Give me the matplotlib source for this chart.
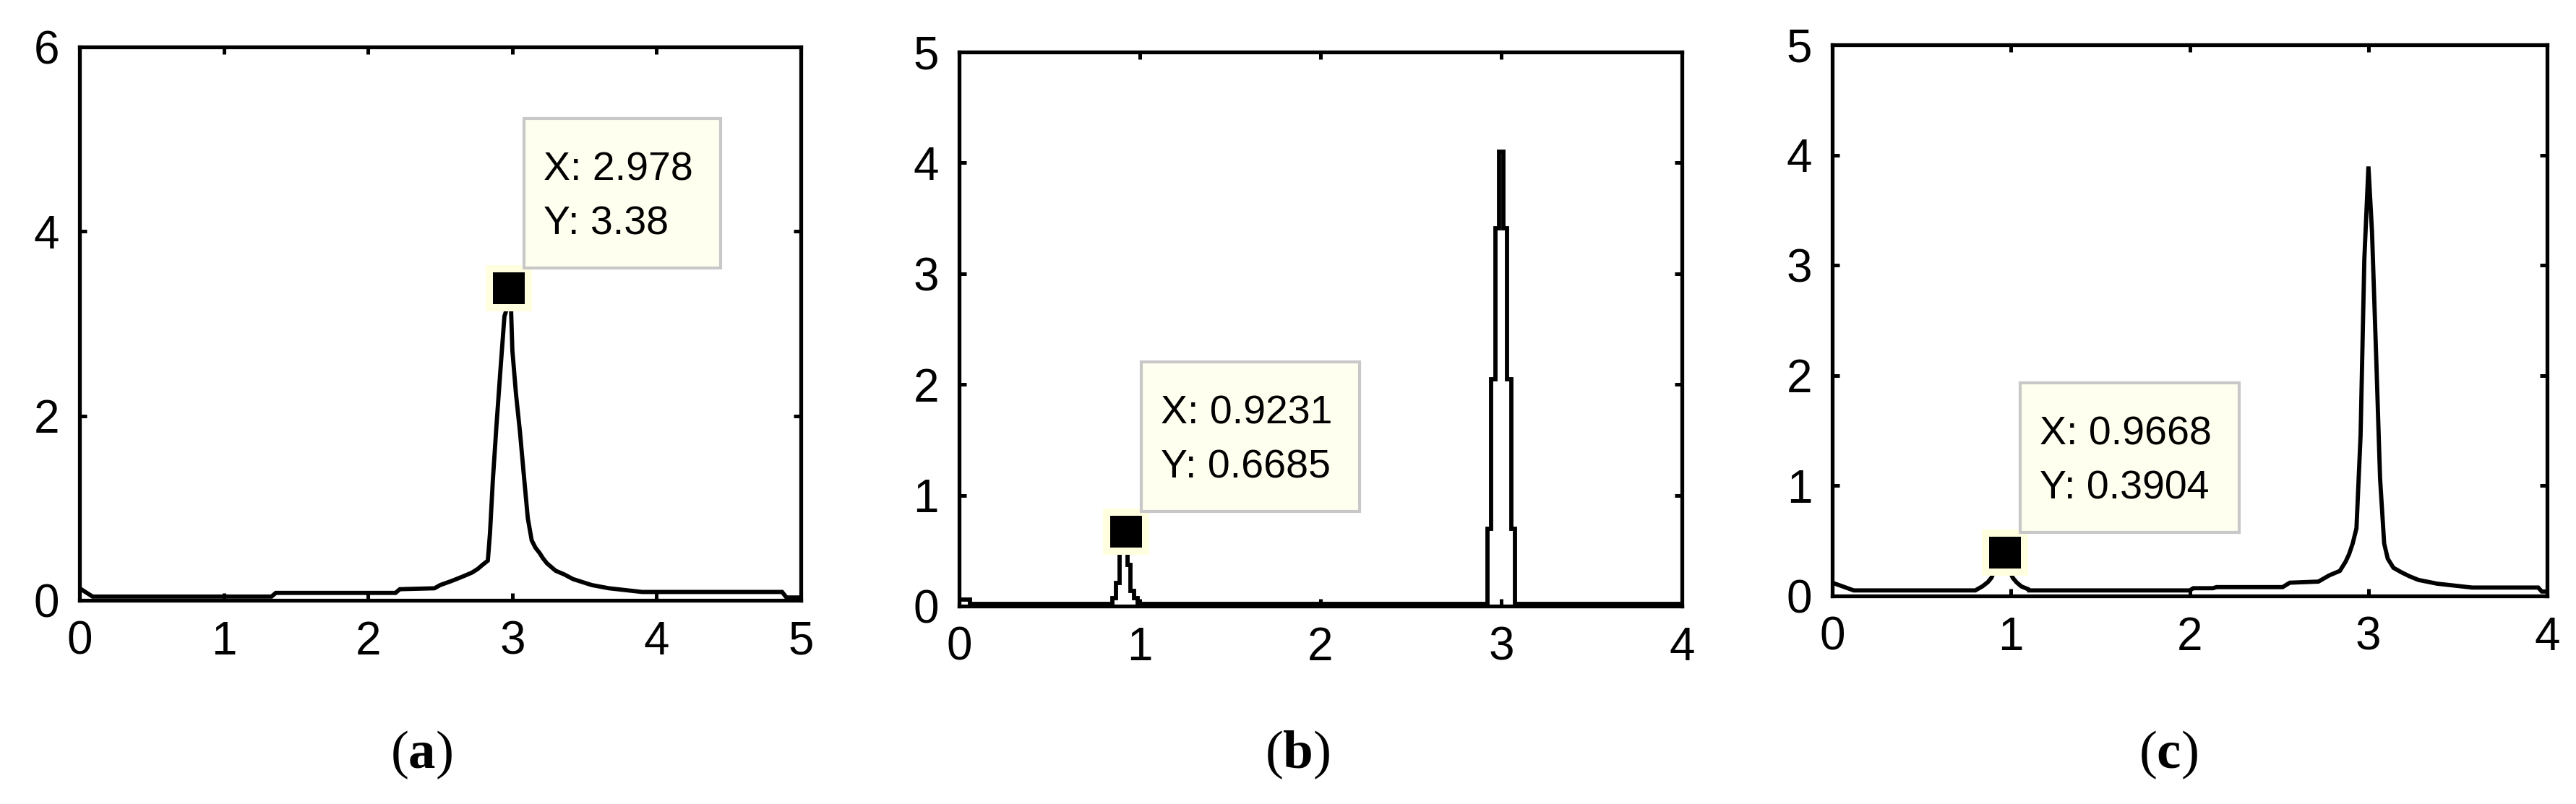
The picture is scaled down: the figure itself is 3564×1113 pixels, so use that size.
import matplotlib
matplotlib.use('Agg')
import matplotlib.pyplot as plt
import matplotlib.transforms as mtransforms
from matplotlib.patches import Rectangle

plt.rcParams['font.family'] = ['Liberation Sans', 'DejaVu Sans']
plt.rcParams['mathtext.fontset'] = 'custom'
plt.rcParams['mathtext.rm'] = 'Liberation Serif'
plt.rcParams['mathtext.bf'] = 'Liberation Serif:bold'

# spectrum (a)
a_x = [0.00, 0.09, 1.33, 1.36, 2.19, 2.22, 2.46, 2.50, 2.58, 2.66, 2.72, 2.76, 2.79, 2.83,
       2.845, 2.865, 2.89, 2.917, 2.945, 2.97, 2.99, 3.00, 3.025, 3.053, 3.08, 3.107, 3.134,
       3.16, 3.19, 3.21, 3.24, 3.27, 3.30, 3.36, 3.42, 3.55, 3.67, 3.90, 4.87, 4.90, 5.00]
a_y = [0.13, 0.04, 0.04, 0.08, 0.08, 0.12, 0.13, 0.165, 0.21, 0.26, 0.30, 0.34, 0.38, 0.43,
       0.73, 1.31, 1.90, 2.49, 3.08, 3.20, 3.20, 2.71, 2.24, 1.82, 1.35, 0.89, 0.65,
       0.57, 0.51, 0.46, 0.40, 0.36, 0.32, 0.28, 0.23, 0.165, 0.13, 0.09, 0.09, 0.03, 0.03]

# spectrum (b)
b_x = [0.00, 0.05, 0.07, 0.84, 0.86, 0.88, 0.90, 0.9231, 0.94, 0.96, 0.98, 1.00,
       2.912, 2.934, 2.956, 2.978, 3.000, 3.022, 3.044, 3.066, 3.088, 4.00]
b_y = [0.06, 0.06, 0.02, 0.02, 0.07, 0.21, 0.50, 0.6685, 0.37, 0.14, 0.07, 0.02,
       0.02, 0.70, 2.05, 3.41, 4.10, 3.41, 2.05, 0.70, 0.02, 0.02]

# spectrum (c)
c_x = [0.00, 0.12, 0.80, 0.84, 0.87, 0.89, 0.91, 0.9668, 0.99, 1.01, 1.03, 1.057, 1.097,
       1.10, 2.00, 2.02, 2.13, 2.15, 2.52, 2.56, 2.72, 2.78, 2.84, 2.872, 2.892, 2.912,
       2.933, 2.956, 2.977, 3.00, 3.02, 3.043, 3.065, 3.088, 3.108, 3.14, 3.185, 3.23,
       3.28, 3.385, 3.58, 3.95, 3.97, 4.00]
c_y = [0.12, 0.05, 0.05, 0.087, 0.125, 0.164, 0.236, 0.3904, 0.236, 0.164, 0.125, 0.087, 0.06,
       0.05, 0.05, 0.07, 0.07, 0.08, 0.08, 0.12, 0.13, 0.186, 0.227, 0.31, 0.38, 0.476,
       0.614, 1.455, 3.054, 3.896, 3.30, 2.186, 1.069, 0.476, 0.338, 0.255, 0.214, 0.178,
       0.145, 0.111, 0.076, 0.076, 0.04, 0.04]

# data tips
tip_x = [2.978, 0.9231, 0.9668]
tip_y = [3.38, 0.6685, 0.3904]

x_max = [5, 4, 4]
y_max = [6, 5, 5]
y_ticks = [[0, 2, 4, 6], [0, 1, 2, 3, 4, 5], [0, 1, 2, 3, 4, 5]]
labels = ['a', 'b', 'c']

positions = [[0.0309, 0.2534, 0.2800, 0.6882],
             [0.3723, 0.2462, 0.2806, 0.6891],
             [0.7113, 0.2588, 0.2775, 0.6855]]
label_x = [0.1636, 0.5036, 0.8418]
steps = ['default', 'steps-mid', 'default']

fig = plt.figure(figsize=(35.64, 11.13), dpi=100)
renderer = fig.canvas.get_renderer()

for i, (xs, ys) in enumerate([(a_x, a_y), (b_x, b_y), (c_x, c_y)]):
    ax = fig.add_axes(positions[i])
    ax.plot(xs, ys, color='black', lw=4.2, drawstyle=steps[i], solid_joinstyle='miter')
    ax.set_xlim(0, x_max[i])
    ax.set_ylim(0, y_max[i])
    ax.set_xticks(range(x_max[i] + 1))
    ax.set_yticks(y_ticks[i])
    ax.tick_params(direction='in', length=7, width=3.6, top=True, right=True,
                   labelsize=46, pad=20)
    for s in ax.spines.values():
        s.set_linewidth(3.8)

    # data tip: marker with pale halo
    ax.plot(tip_x[i], tip_y[i], marker='s', ms=46, mew=0, color='#ffffe0', clip_on=False, zorder=5)
    ax.plot(tip_x[i], tip_y[i], marker='s', ms=31.5, mew=0, color='black', clip_on=False, zorder=6)

    # tip box, offsets in pixels from the marker
    tr = mtransforms.ScaledTranslation(tip_x[i], tip_y[i], ax.transData)
    t1 = ax.text(48, 150, f'X: {tip_x[i]:g}', transform=tr, fontsize=40,
                 ha='left', va='baseline', zorder=8, clip_on=False)
    t2 = ax.text(48, 75, f'Y: {tip_y[i]:g}', transform=tr, fontsize=40,
                 ha='left', va='baseline', zorder=8, clip_on=False)
    tw = max(t1.get_window_extent(renderer).width, t2.get_window_extent(renderer).width)
    ax.add_patch(Rectangle((21, 28), tw + 27 + 38, 207, transform=tr, fc='#fffff0',
                           ec='#c8c8c8', lw=3, zorder=7, clip_on=False))

    fig.text(label_x[i], 0.061, r'($\mathbf{' + labels[i] + '}$)', ha='center', va='center',
             fontsize=54, family='Liberation Serif')

fig.savefig('out.png', dpi=100)
